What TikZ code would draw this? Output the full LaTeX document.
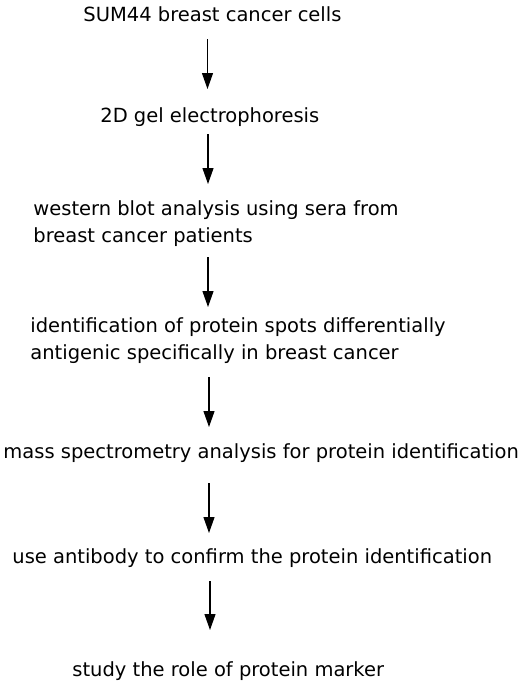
\documentclass[tikz,border=0pt]{standalone}
\usepackage{fontspec}
\setmainfont{DejaVu Sans}
\usetikzlibrary{arrows.meta}

\newcommand{\twolines}[2]{\begin{tabular}[t]{@{}l@{}}#1\\#2\end{tabular}}

\begin{document}
\begin{tikzpicture}[x=0.5pt, y=-0.5pt]
\tikzstyle{step_text}=[anchor=base west, inner sep=0pt, font=\fontsize{9.75pt}{13.5pt}\selectfont];
\tikzstyle{arrow}=[-{Triangle[length=8pt, width=5.5pt]}, line width=0.6pt];

\useasboundingbox (0,0) rectangle (520,682);

\node [step_text] at (83,21) (Cells) {SUM44 breast cancer cells};
\node [step_text] at (100,122) (Gel) {2D gel electrophoresis};
\node [step_text] at (33,215) (Western) {\twolines{western blot analysis using sera from}{breast cancer patients}};
\node [step_text] at (30,332) (Spots) {\twolines{identification of protein spots differentially}{antigenic specifically in breast cancer}};
\node [step_text] at (3,458) (Mass) {mass spectrometry analysis for protein identification};
\node [step_text] at (12,563) (Antibody) {use antibody to confirm the protein identification};
\node [step_text] at (72,676) (Marker) {study the role of protein marker};

\coordinate (a1s) at (207.5,39);  \coordinate (a1e) at (207.5,89);
\coordinate (a2s) at (208,134);   \coordinate (a2e) at (208,184);
\coordinate (a3s) at (208,257);   \coordinate (a3e) at (208,307);
\coordinate (a4s) at (209,377);   \coordinate (a4e) at (209,427);
\coordinate (a5s) at (209,483);   \coordinate (a5e) at (209,533);
\coordinate (a6s) at (210,581);   \coordinate (a6e) at (210,630);

\draw[arrow] (a1s) -- (a1e);
\draw[arrow] (a2s) -- (a2e);
\draw[arrow] (a3s) -- (a3e);
\draw[arrow] (a4s) -- (a4e);
\draw[arrow] (a5s) -- (a5e);
\draw[arrow] (a6s) -- (a6e);

\end{tikzpicture}
\end{document}
